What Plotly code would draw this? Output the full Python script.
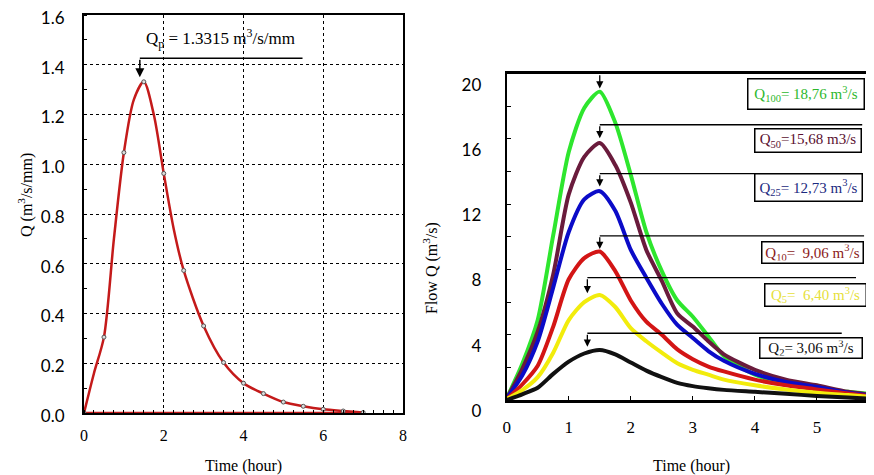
import plotly.graph_objects as go

# page body has an 8px margin; figure sized so it ends at the window edge
OFF = 8
W, H = 874 - OFF, 475 - OFF

# ---------------- Left chart: unit hydrograph ----------------
uh_time = [0, 0.25, 0.5, 0.75, 1.0, 1.25, 1.5, 1.75, 2.0, 2.25, 2.5, 3.0, 3.5, 4.0, 4.5, 5.0, 5.5, 6.0, 6.5, 7.0]
uh_q = [0, 0.16, 0.305, 0.70, 1.047, 1.26, 1.3315, 1.20, 0.963, 0.74, 0.573, 0.35, 0.203, 0.12, 0.078, 0.044, 0.027, 0.015, 0.008, 0.002]
uh_base_time = [0, 7.0]
uh_base_q = [0, 0]
left_xticks = [0, 2, 4, 6, 8]
left_yticks = [0.0, 0.2, 0.4, 0.6, 0.8, 1.0, 1.2, 1.4, 1.6]
qp_label = "Q<sub>p</sub> = 1.3315 m<sup>3</sup>/s/mm"

# ---------------- Right chart: design flood hydrographs ----------------
t = [0, 0.25, 0.5, 0.75, 1.0, 1.25, 1.5, 1.75, 2.0, 2.25, 2.5, 2.75, 3.0, 3.25, 3.5, 4.0, 4.5, 5.0, 5.5, 5.92]
q100 = [0.1, 2.2, 4.9, 10.1, 15.2, 17.9, 18.9, 17.0, 13.8, 10.3, 7.9, 6.1, 5.1, 3.9, 2.7, 1.55, 1.0, 0.7, 0.5, 0.35]
q50 = [0.1, 1.9, 4.2, 7.7, 12.6, 14.9, 15.75, 14.4, 12.1, 9.2, 7.3, 5.3, 4.5, 3.6, 2.8, 1.85, 1.25, 0.9, 0.5, 0.3]
q25 = [0.1, 1.5, 3.6, 6.9, 10.3, 12.3, 12.8, 11.6, 9.2, 7.5, 5.9, 4.6, 3.8, 3.0, 2.4, 1.6, 1.1, 0.8, 0.45, 0.25]
q10 = [0.05, 0.95, 2.1, 4.5, 7.4, 8.7, 9.1, 7.9, 6.1, 4.8, 4.0, 3.1, 2.5, 2.05, 1.75, 1.25, 0.9, 0.65, 0.4, 0.2]
q5 = [0.05, 0.6, 1.4, 2.9, 4.9, 6.0, 6.44, 5.7, 4.4, 3.6, 2.9, 2.25, 1.85, 1.55, 1.25, 0.9, 0.65, 0.45, 0.3, 0.17]
q2 = [0, 0.35, 0.75, 1.6, 2.35, 2.85, 3.07, 2.8, 2.3, 1.8, 1.4, 1.05, 0.85, 0.72, 0.62, 0.5, 0.38, 0.25, 0.15, 0.06]

series_names = ["Q100", "Q50", "Q25", "Q10", "Q5", "Q2"]
series_vals = [q100, q50, q25, q10, q5, q2]
line_colors = ["#2ee62e", "#6a1b3c", "#0b0bc8", "#d31515", "#f2ec0c", "#111111"]
label_texts = [
    "Q<sub>100</sub>= 18,76 m<sup>3</sup>/s",
    "Q<sub>50</sub>=15,68 m3/s",
    "Q<sub>25</sub>= 12,73 m<sup>3</sup>/s",
    "Q<sub>10</sub>=  9,06 m<sup>3</sup>/s",
    "Q<sub>5</sub>=  6,40 m<sup>3</sup>/s",
    "Q<sub>2</sub>= 3,06 m<sup>3</sup>/s",
]
label_colors = ["#2db82d", "#5a1030", "#1c2a80", "#8b1a1a", "#e6df3a", "#111111"]
right_xticks = [0, 1, 2, 3, 4, 5]
right_yticks = [0, 4, 8, 12, 16, 20]

# layout helpers (window pixel -> paper)
def px(x):
    return (x - OFF) / W

def py(y):
    return 1 - (y - OFF) / H

SERIF = "Liberation Serif"
SANS = "Lato"

fig = go.Figure()

# left chart traces
fig.add_trace(go.Scatter(x=uh_base_time, y=uh_base_q, mode="lines",
                         line=dict(color="#c41a1a", width=2.5),
                         xaxis="x", yaxis="y", showlegend=False, hoverinfo="skip"))
fig.add_trace(go.Scatter(x=uh_time, y=uh_q, mode="lines",
                         line=dict(color="#c41a1a", width=2.5, shape="spline", smoothing=0.8),
                         xaxis="x", yaxis="y", showlegend=False))
mk_t = [tt for tt in uh_time if abs(tt * 2 - round(tt * 2)) < 1e-9]
mk_q = [q for tt, q in zip(uh_time, uh_q) if abs(tt * 2 - round(tt * 2)) < 1e-9]
fig.add_trace(go.Scatter(x=mk_t, y=mk_q, mode="markers",
                         marker=dict(size=4, color="#dddddd", line=dict(color="#555555", width=1)),
                         xaxis="x", yaxis="y", showlegend=False))

# right chart traces
for name, vals, col in zip(series_names, series_vals, line_colors):
    fig.add_trace(go.Scatter(x=t, y=vals, mode="lines", name=name,
                             line=dict(color=col, width=4, shape="spline", smoothing=0.7),
                             xaxis="x2", yaxis="y2", showlegend=False))

annotations = []
shapes = []

# left chart annotation: Qp
annotations.append(dict(text=qp_label, xref="paper", yref="paper", x=px(220), y=py(38),
                        showarrow=False, font=dict(family=SERIF, size=17, color="black"),
                        xanchor="center", yanchor="middle"))
shapes.append(dict(type="line", xref="x", yref="y", x0=1.40, x1=5.48, y0=1.426, y1=1.426,
                   line=dict(color="black", width=1.5)))
annotations.append(dict(x=1.40, y=1.35, ax=1.40, ay=1.426, xref="x", yref="y", axref="x", ayref="y",
                        text="", showarrow=True, arrowhead=2, arrowsize=1.2, arrowwidth=1.5,
                        arrowcolor="black", standoff=0))

# right chart arrows and horizontal leaders
arrow_x = [1.5, 1.5, 1.5, 1.5, 1.3, 1.3]
lead_y = [20.0, 16.87, 13.87, 10.06, 7.50, 4.09]
lead_x1 = [5.92, 5.73, 5.73, 5.76, 5.63, 5.40]
tip_y = [19.1, 16.05, 13.09, 9.26, 6.55, 3.27]
for i in range(6):
    if i > 0:
        shapes.append(dict(type="line", xref="x2", yref="y2", x0=arrow_x[i], x1=lead_x1[i],
                           y0=lead_y[i], y1=lead_y[i], line=dict(color="black", width=1.3)))
    annotations.append(dict(x=arrow_x[i], y=tip_y[i], ax=arrow_x[i], ay=lead_y[i],
                            xref="x2", yref="y2", axref="x2", ayref="y2", text="",
                            showarrow=True, arrowhead=2, arrowsize=1.1, arrowwidth=1.3,
                            arrowcolor="black", standoff=0))

# right chart labels (boxes)
box_cx = [806, 808, 808, 812, 815, 811]
box_cy = [94, 141, 187, 252.5, 295, 348]
box_w = [111, 101, 102, 96, 96, 97]
box_h = [25, 18, 22, 16, 17, 15]
for i in range(6):
    annotations.append(dict(text=label_texts[i], xref="paper", yref="paper",
                            x=px(box_cx[i]), y=py(box_cy[i]), xanchor="center", yanchor="middle",
                            showarrow=False, font=dict(family=SERIF, size=15, color=label_colors[i]),
                            bordercolor="black", borderwidth=1.5, borderpad=2, bgcolor="white",
                            width=box_w[i], height=box_h[i], align="center", valign="middle"))

# axis titles
title_font = dict(family=SERIF, size=16, color="black")
annotations += [
    dict(text="Q (m<sup>3</sup>/s/mm)", xref="paper", yref="paper", x=px(25), y=py(195),
         textangle=-90, showarrow=False, font=title_font, xanchor="center", yanchor="middle"),
    dict(text="Time (hour)", xref="paper", yref="paper", x=px(243), y=py(466),
         showarrow=False, font=title_font, xanchor="center", yanchor="middle"),
    dict(text="Flow Q (m<sup>3</sup>/s)", xref="paper", yref="paper", x=px(430), y=py(268),
         textangle=-90, showarrow=False, font=title_font, xanchor="center", yanchor="middle"),
    dict(text="Time (hour)", xref="paper", yref="paper", x=px(691), y=py(466),
         showarrow=False, font=title_font, xanchor="center", yanchor="middle"),
]

fig.update_layout(
    template="none",
    width=W, height=H, margin=dict(l=0, r=0, t=0, b=0, pad=0, autoexpand=False),
    paper_bgcolor="white", plot_bgcolor="white", showlegend=False,
    xaxis=dict(domain=[px(84), px(403)], range=[0, 8], anchor="y", automargin=False,
               tickvals=left_xticks, ticks="", showline=True, linecolor="black", linewidth=2,
               mirror=True, showgrid=True, gridcolor="black", griddash="dot", gridwidth=1.3,
               zeroline=False, ticklabelstandoff=7, ticklabeloverflow="allow",
               tickfont=dict(family=SERIF, size=16, color="black"),
               minor=dict(ticks="inside", ticklen=3, dtick=0.25, tickcolor="black", showgrid=False)),
    yaxis=dict(domain=[py(413), py(15)], range=[0, 1.6], anchor="x", automargin=False,
               tickvals=left_yticks, tickformat=".1f", ticks="", showline=True, linecolor="black",
               linewidth=2, mirror=True, showgrid=True, gridcolor="black", griddash="dot",
               gridwidth=1.3, zeroline=False, ticklabelstandoff=14, ticklabelshift=3,
               ticklabeloverflow="allow",
               tickfont=dict(family=SANS, size=17, color="black"),
               minor=dict(ticks="inside", ticklen=3, dtick=0.1, tickcolor="black", showgrid=False)),
    xaxis2=dict(domain=[px(506.7), 1.0], range=[0, 5.92], anchor="y2", automargin=False,
                tickvals=right_xticks, ticks="inside", ticklen=4, tickcolor="black",
                showline=True, linecolor="black", linewidth=3, mirror=True,
                showgrid=False, zeroline=False, ticklabelstandoff=10, ticklabeloverflow="allow",
                tickfont=dict(family=SERIF, size=17, color="black")),
    yaxis2=dict(domain=[py(400), py(73.7)], range=[0, 20], anchor="x2", automargin=False,
                tickvals=right_yticks, ticks="", showline=True, linecolor="black", linewidth=2,
                showgrid=False, zeroline=False, ticklabelstandoff=20, ticklabelshift=11,
                ticklabeloverflow="allow",
                tickfont=dict(family=SANS, size=17, color="black"),
                minor=dict(ticks="inside", ticklen=4, dtick=2, tickcolor="black")),
    annotations=annotations, shapes=shapes,
)

fig.write_html("out.html")
